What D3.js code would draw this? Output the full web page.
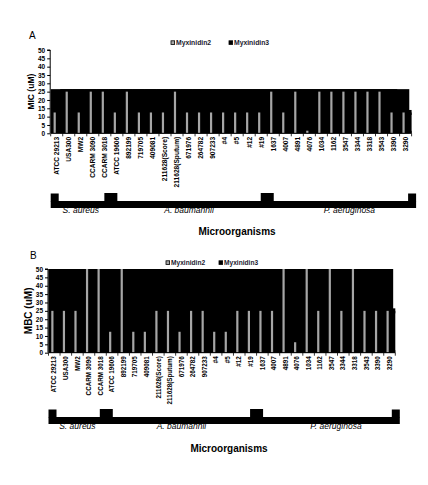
<!DOCTYPE html>
<html>
<head>
<meta charset="utf-8">
<script src="https://cdn.jsdelivr.net/npm/d3@7"></script>
<style>
  html, body { margin: 0; padding: 0; background: #fff; }
  svg { display: block; font-family: "Liberation Sans", Arial, sans-serif; }
</style>
</head>
<body>
<svg id="chart" width="428" height="485"></svg>
<script>
// ---------- DATA ----------
const categories = ["ATCC 29213", "USA300", "MW2", "CCARM 3090", "CCARM 3018",
  "ATCC 19606", "892199", "719705", "409081", "211628(Score)", "211628(Sputum)",
  "671976", "264782", "907233", "#4", "#5", "#12", "#19",
  "1637", "4007", "4891", "4076", "1034", "1162", "3547", "3344", "3318", "3543", "3390", "3290"];
const groupNames = ["S. aureus", "A. baumannii", "P. aeruginosa"];
const groupFirst = ["ATCC 29213", "ATCC 19606", "1637"];
const groupLast = ["CCARM 3018", "#19", "3290"];
const seriesNames = ["Myxinidin2", "Myxinidin3"];

const micMyxinidin2 = [12.5, 25, 12.5, 25, 25, 12.5, 25, 12.5, 12.5, 12.5, 25, 12.5, 12.5, 12.5,
  12.5, 12.5, 12.5, 12.5, 25, 12.5, 25, 1.56, 25, 25, 25, 25, 25, 25, 12.5, 12.5];
const micMyxinidin3 = [25, 25, 25, 25, 25, 25, 25, 25, 25, 25, 25, 25, 25, 25,
  25, 25, 25, 25, 25, 25, 25, 25, 25, 25, 25, 25, 25, 25, 25, 12.5];
const mbcMyxinidin2 = [25, 25, 25, 50, 50, 12.5, 50, 12.5, 12.5, 25, 25, 12.5, 25, 25,
  12.5, 12.5, 25, 25, 25, 25, 50, 6.25, 50, 25, 50, 25, 50, 25, 25, 25];
const mbcMyxinidin3 = [50, 50, 50, 50, 50, 50, 50, 50, 50, 50, 50, 50, 50, 50,
  50, 50, 50, 50, 50, 50, 50, 50, 50, 50, 50, 50, 50, 50, 50, 25];
const yTicks = [0, 5, 10, 15, 20, 25, 30, 35, 40, 45, 50];
const yMax = 50;

// ---------- DRAW ----------
const svg = d3.select("#chart");
const GRAY = "#a6a6a6";

function drawPanel(cfg) {
  const g = svg.append("g");
  const x = d3.scaleBand().domain(categories).range([cfg.x0, cfg.x1]).padding(0);
  const y = d3.scaleLinear().domain([0, yMax]).range([cfg.yBottom, cfg.yTop]);
  const step = x.step();

  // panel letter
  g.append("text").attr("x", cfg.letterX).attr("y", cfg.letterY)
    .attr("font-size", 10).attr("fill", "#000").text(cfg.letter);

  // legend
  const leg = g.append("g").attr("transform", `translate(${cfg.legX},${cfg.legY})`);
  seriesNames.forEach((name, i) => {
    const lx = cfg.legOffsets[i];
    leg.append("rect").attr("x", lx).attr("y", -4.2).attr("width", 3.6).attr("height", 3.6)
      .attr("fill", i === 0 ? GRAY : "#000").attr("stroke", "#000").attr("stroke-width", 0.8);
    leg.append("text").attr("x", lx + 5).attr("y", 0)
      .attr("font-size", cfg.legFont).attr("font-weight", "bold").attr("fill", "#1a1a2e")
      .text(name);
  });

  // clip for plot area
  const clipId = "clip" + cfg.letter;
  svg.append("clipPath").attr("id", clipId).append("rect")
    .attr("x", cfg.x0).attr("y", cfg.yTop).attr("width", cfg.x1 - cfg.x0).attr("height", cfg.yBottom - cfg.yTop);

  const plot = g.append("g").attr("clip-path", `url(#${clipId})`);
  // Myxinidin3 bars (black, overlapping)
  plot.selectAll("rect.s3").data(categories).join("rect").attr("class", "s3")
    .attr("x", d => x(d))
    .attr("width", step * 1.6)
    .attr("y", (d, i) => y(cfg.s3[i]))
    .attr("height", (d, i) => y(0) - y(cfg.s3[i]))
    .attr("fill", "#000").attr("stroke", "#000").attr("stroke-width", 5);
  // Myxinidin2 bars (gray, thin)
  plot.selectAll("rect.s2").data(categories).join("rect").attr("class", "s2")
    .attr("x", d => x(d) + step * 0.24)
    .attr("width", 2.2)
    .attr("y", (d, i) => y(cfg.s2[i]))
    .attr("height", (d, i) => y(0) - y(cfg.s2[i]))
    .attr("fill", GRAY);

  // y axis
  const ya = g.append("g").attr("transform", `translate(${cfg.x0 - 0.5},0)`)
    .call(d3.axisLeft(y).tickValues(yTicks).tickSize(3).tickPadding(2).tickFormat(d3.format("d")));
  ya.selectAll("text").attr("font-size", 6.5).attr("font-weight", "bold").attr("fill", "#000")
    .attr("font-family", "Liberation Sans, Arial, sans-serif");
  ya.selectAll("line, path").attr("stroke", "#000");
  ya.select("path").attr("d", `M-3,${y(yMax)}H0V${y(0)}`).attr("stroke-width", 1);

  // y title
  g.append("text")
    .attr("transform", `translate(${cfg.yTitleX},${(cfg.yTop + cfg.yBottom) / 2}) rotate(-90)`)
    .attr("text-anchor", "middle").attr("font-size", cfg.yTitleFont).attr("font-weight", "bold")
    .attr("fill", "#000").text(cfg.yTitle);

  // x axis (labels at band centres, ticks at band boundaries)
  const xa = g.append("g").attr("transform", `translate(0,${cfg.yBottom})`)
    .call(d3.axisBottom(x).tickSize(0).tickPadding(0));
  xa.select("path").attr("d", `M${cfg.x0},0H${cfg.x1}`).attr("stroke", "#000");
  xa.selectAll("text")
    .attr("transform", "rotate(-90)")
    .attr("x", -3.5).attr("y", 0).attr("dy", "0.35em")
    .attr("text-anchor", "end")
    .attr("font-size", cfg.xFont).attr("font-weight", "bold").attr("fill", "#000")
    .attr("font-family", "Liberation Sans, Arial, sans-serif");
  xa.selectAll("line.bt").data(categories.concat([null])).join("line").attr("class", "bt")
    .attr("x1", (d, i) => cfg.x0 + i * step).attr("x2", (d, i) => cfg.x0 + i * step)
    .attr("y1", 0).attr("y2", 3).attr("stroke", "#000").attr("stroke-width", 0.8);

  // group labels (drawn before the bracket bar so its edge covers their tops)
  const nudges = [0, 0, 10];
  groupNames.forEach((name, i) => {
    const a = x(groupFirst[i]), b = x(groupLast[i]) + step;
    g.append("text").attr("x", (a + b) / 2 + nudges[i]).attr("y", cfg.brY + 11.8)
      .attr("text-anchor", "middle").attr("font-size", 8.5).attr("font-style", "italic")
      .attr("fill", "#000").text(name);
  });
  // bracket bar
  g.append("rect").attr("x", cfg.x0).attr("y", cfg.brY).attr("width", cfg.x1 - cfg.x0 + 4.5).attr("height", 7)
    .attr("fill", "#000");
  // raised blocks at ends and group separators
  g.append("rect").attr("x", cfg.x0).attr("y", cfg.brY - 7.5).attr("width", 8).attr("height", 8).attr("fill", "#000");
  g.append("rect").attr("x", cfg.x1 - 3.5).attr("y", cfg.brY - 7.5).attr("width", 8).attr("height", 8).attr("fill", "#000");
  groupFirst.slice(1).forEach(c => {
    const bx = x(c);
    g.append("rect").attr("x", bx - 6.5).attr("y", cfg.brY - 8).attr("width", 13).attr("height", 8.5).attr("fill", "#000");
  });

  // x title
  g.append("text").attr("x", cfg.xTitleX).attr("y", cfg.xTitleY).attr("text-anchor", "middle")
    .attr("font-size", 10).attr("font-weight", "bold").attr("fill", "#000").text("Microorganisms");
}

drawPanel({
  letter: "A", letterX: 29, letterY: 39,
  legX: 171, legY: 45, legOffsets: [0, 58], legFont: 6.8,
  x0: 50.7, x1: 411.6, yTop: 50, yBottom: 133.3,
  s2: micMyxinidin2, s3: micMyxinidin3,
  yTitle: "MIC (uM)", yTitleX: 34, yTitleFont: 8.5,
  xFont: 6.6, brY: 201, xTitleX: 237, xTitleY: 235
});

drawPanel({
  letter: "B", letterX: 30, letterY: 259,
  legX: 166, legY: 265, legOffsets: [0, 53], legFont: 6.6,
  x0: 48.5, x1: 395.3, yTop: 269, yBottom: 352.7,
  s2: mbcMyxinidin2, s3: mbcMyxinidin3,
  yTitle: "MBC (uM)", yTitleX: 32, yTitleFont: 10,
  xFont: 6.3, brY: 417, xTitleX: 229, xTitleY: 452
});
</script>
</body>
</html>
